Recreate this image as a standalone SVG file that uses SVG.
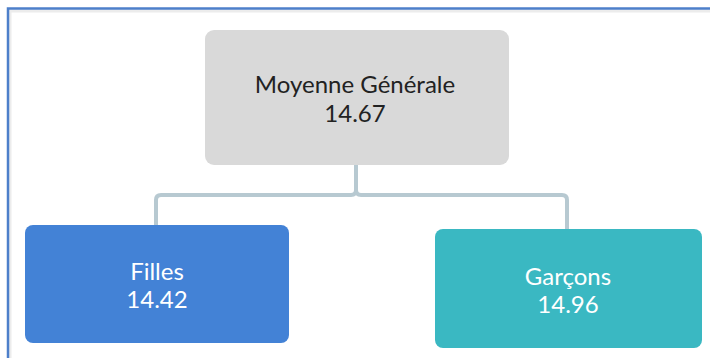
<svg xmlns="http://www.w3.org/2000/svg" width="710" height="358" viewBox="0 0 710 358">
<style>
.t{font-family:Lato,"Open Sans","Liberation Sans",sans-serif;font-size:24px;text-anchor:middle}
.dark{fill:#222222}
.light{fill:#ffffff}
.conn{fill:none;stroke:#b7c9d1;stroke-width:4;stroke-linejoin:round}
</style>
<rect width="710" height="358" fill="#ffffff"/>
<path d="M10 358 V11 H710" fill="none" stroke="#ececec" stroke-width="3"/>
<path d="M8 358 V8.5 H710" fill="none" stroke="#4d7fca" stroke-width="2.5"/>
<g id="connectors">
<path class="conn" d="M356 165 V190 Q356 195 351 195 H161 Q156 195 156 200 V226"/>
<path class="conn" d="M356 190 Q356 195 361 195 H562 Q567 195 567 200 V230"/>
</g>
<g id="root">
<rect x="205" y="30" width="304" height="135" rx="9" fill="#d9d9d9"/>
<text class="t dark" x="355" y="93">Moyenne Générale</text>
<text class="t dark" x="355" y="122">14.67</text>
</g>
<g id="filles">
<rect x="25" y="225" width="264" height="118" rx="8" fill="#4382d6"/>
<text class="t light" x="157" y="280">Filles</text>
<text class="t light" x="157" y="308">14.42</text>
</g>
<g id="garcons">
<rect x="435" y="229" width="267" height="119" rx="8" fill="#3ab8c2"/>
<text class="t light" x="568" y="285">Garçons</text>
<text class="t light" x="568" y="313">14.96</text>
</g>
</svg>
